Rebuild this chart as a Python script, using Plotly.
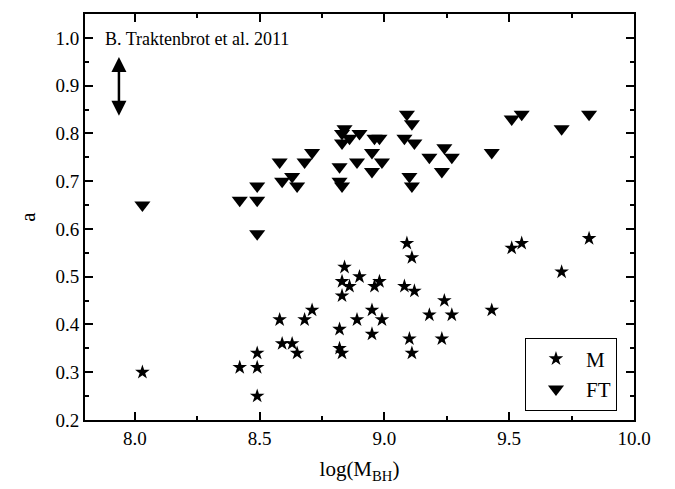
import plotly.graph_objects as go

# log(M_BH) of each object (shared by both series)
log_mbh = [8.03, 8.42, 8.49, 8.49, 8.49, 8.58, 8.59, 8.63, 8.65, 8.68,
           8.71, 8.82, 8.82, 8.83, 8.83, 8.83, 8.84, 8.86, 8.90, 8.89,
           8.95, 8.99, 8.95, 8.96, 8.98, 9.08, 9.12, 9.11, 9.09, 9.10,
           9.11, 9.18, 9.24, 9.27, 9.23, 9.43, 9.51, 9.55, 9.71, 9.82]
a_M = [0.30, 0.31, 0.31, 0.34, 0.25, 0.41, 0.36, 0.36, 0.34, 0.41,
       0.43, 0.39, 0.35, 0.34, 0.46, 0.49, 0.52, 0.48, 0.50, 0.41,
       0.43, 0.41, 0.38, 0.48, 0.49, 0.48, 0.47, 0.54, 0.57, 0.37,
       0.34, 0.42, 0.45, 0.42, 0.37, 0.43, 0.56, 0.57, 0.51, 0.58]
a_FT = [0.65, 0.66, 0.66, 0.69, 0.59, 0.74, 0.70, 0.71, 0.69, 0.74,
        0.76, 0.73, 0.70, 0.69, 0.78, 0.80, 0.81, 0.79, 0.80, 0.74,
        0.76, 0.74, 0.72, 0.79, 0.79, 0.79, 0.78, 0.82, 0.84, 0.71,
        0.69, 0.75, 0.77, 0.75, 0.72, 0.76, 0.83, 0.84, 0.81, 0.84]

x_ticks = [8.0, 8.5, 9.0, 9.5, 10.0]
y_ticks = [0.2, 0.3, 0.4, 0.5, 0.6, 0.7, 0.8, 0.9, 1.0]

# error-range arrow (annotation, not data)
arrow_x = 7.936
arrow_y_top = 0.96
arrow_y_bottom = 0.834

FONT = "Liberation Serif, Times New Roman, serif"

fig = go.Figure()
fig.add_trace(go.Scatter(x=log_mbh, y=a_M, mode="markers", name="M",
                         marker=dict(symbol="star", size=11, color="black",
                                     line=dict(width=0))))
fig.add_trace(go.Scatter(x=log_mbh, y=a_FT, mode="markers", name="FT",
                         marker=dict(symbol="triangle-down", size=14, color="black",
                                     line=dict(width=0))))

axis_common = dict(showline=True, linecolor="black", linewidth=2, mirror="allticks",
                   ticks="inside", tickcolor="black", tickwidth=2, ticklen=8,
                   showgrid=False, zeroline=False,
                   tickfont=dict(family=FONT, size=19, color="black"))

fig.update_xaxes(range=[7.8, 10.0], tickvals=x_ticks,
                 ticktext=[f"{v:.1f}" for v in x_ticks],
                 minor=dict(ticks="inside", dtick=0.25, tick0=7.75, ticklen=4,
                            tickwidth=2, tickcolor="black"),
                 title=dict(text="log(M<sub>BH</sub>)", standoff=14,
                            font=dict(family=FONT, size=21, color="black")),
                 **axis_common)
fig.update_yaxes(range=[0.2, 1.05], tickvals=y_ticks,
                 ticktext=[f"{v:.1f}" for v in y_ticks],
                 minor=dict(ticks="inside", dtick=0.05, tick0=0.15, ticklen=4,
                            tickwidth=2, tickcolor="black"),
                 title=dict(text="a", standoff=14,
                            font=dict(family=FONT, size=21, color="black")),
                 **axis_common)

fig.add_annotation(x=arrow_x, y=arrow_y_top, ax=arrow_x, ay=arrow_y_bottom,
                   xref="x", yref="y", axref="x", ayref="y", text="",
                   showarrow=True, arrowside="end+start", arrowhead=2,
                   arrowsize=1.2, arrowwidth=2.5, arrowcolor="black")
fig.add_annotation(x=7.872, y=0.997, xref="x", yref="y", xanchor="left",
                   yanchor="middle", showarrow=False,
                   text="B. Traktenbrot et al. 2011",
                   font=dict(family=FONT, size=18, color="black"))

fig.update_layout(
    width=675, height=489,
    margin=dict(l=77, r=49, t=4, b=77),
    paper_bgcolor="white", plot_bgcolor="white",
    font=dict(family=FONT, color="black"),
    legend=dict(x=0.969, y=0.203, xanchor="right", yanchor="top",
                bordercolor="black", borderwidth=1, bgcolor="white",
                font=dict(family=FONT, size=21, color="black"),
                itemwidth=50),
    showlegend=True,
)

fig.write_html("out.html")
